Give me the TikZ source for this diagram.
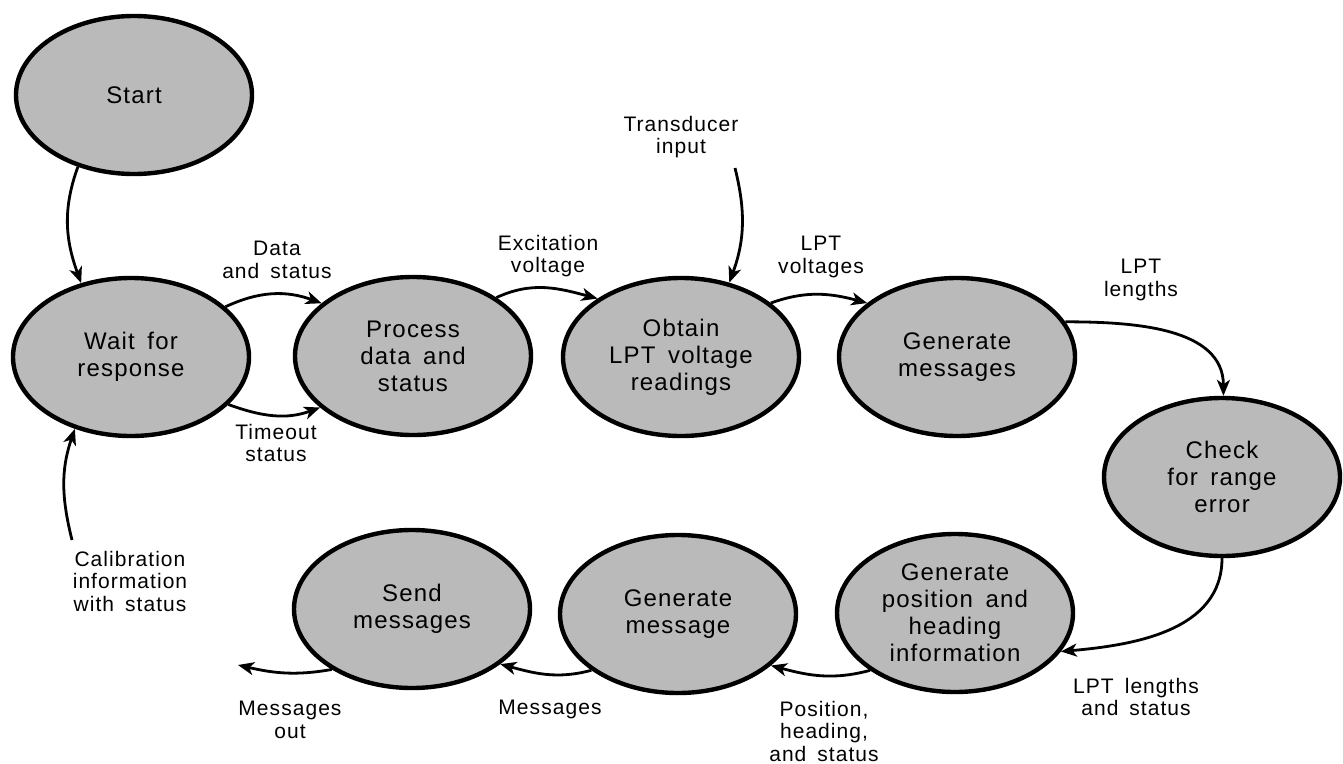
\documentclass[tikz,border=0pt]{standalone}
\usepackage{fontspec}
\setmainfont{Liberation Sans}
\newfontfamily\dfont[LetterSpace=5,WordSpace=1.6]{Liberation Sans}
\usetikzlibrary{arrows.meta,shapes.geometric}
\begin{document}
\begin{tikzpicture}[x=1pt,y=1pt,
  proc/.style={ellipse, draw=black, line width=4.4pt, fill=black!27,
    minimum width=236pt, minimum height=158pt, inner sep=0pt, align=center,
    font=\dfont\fontsize{24}{27}\selectfont},
  lbl/.style={align=center, inner sep=0pt, font=\dfont\fontsize{21}{22.5}\selectfont},
  flow/.style={line width=2.8pt, -{Stealth[length=16pt,width=13pt,inset=4.5pt]}}]
\useasboundingbox (0,0) rectangle (1343,-763);

\node[proc] (start)   at (134,-95)   {Start};
\node[proc] (wait)    at (131,-357)  {Wait for\\response};
\node[proc] (proc)    at (413,-356)  {Process\\data and\\status};
\node[proc] (obtain)  at (681,-357)  {Obtain\\LPT voltage\\readings};
\node[proc] (genmsgs) at (957,-357)  {Generate\\messages};
\node[proc] (check)   at (1222,-477) {Check\\for range\\error};
\node[proc] (genpos)  at (955,-613)  {Generate\\position and\\heading\\information};
\node[proc] (genmsg)  at (678,-614)  {Generate\\message};
\node[proc] (send)    at (412,-609)  {Send\\messages};

\node[lbl] (l1)  at (277,-260)  {Data\\and status};
\node[lbl] (l2)  at (276,-443)  {Timeout\\status};
\node[lbl] (l3)  at (548,-256)  {Excitation\\voltage};
\node[lbl] (l4)  at (681,-137)  {Transducer\\input};
\node[lbl] (l5)  at (821,-257)  {LPT\\voltages};
\node[lbl] (l6)  at (1141,-280) {LPT\\lengths};
\node[lbl] (l7)  at (1136,-697) {LPT lengths\\and status};
\node[lbl] (l8)  at (824,-731)  {Position,\\heading,\\and status};
\node[lbl] (l9)  at (550,-709)  {Messages};
\node[lbl] (l10) at (290,-720)  {Messages\\out};
\node[lbl] (l11) at (130,-581)  {Calibration\\information\\with status};

\coordinate (tin)  at (735,-168);
\coordinate (cal)  at (72,-540);
\coordinate (mout) at (238,-665);

\draw[flow] (start.232) to[out=250,in=110] (wait.124);
\draw[flow] (cal) to[out=104,in=251] (wait.232);
\draw[flow] (wait.28) to[out=25,in=160] (proc.150);
\draw[flow] (wait.334) to[out=-20,in=200] (proc.209);
\draw[flow] (proc.35) to[out=25,in=165] (obtain.145);
\draw[flow] (tin) to[out=284,in=70] (obtain.57);
\draw[flow] (obtain.31) to[out=20,in=165] (genmsgs.149);
\draw[flow] (genmsgs.18) to[out=0,in=90] (check.89);
\draw[flow] (check.270) to[out=-90,in=5] (genpos.340);
\draw[flow] (genpos.214) to[out=195,in=-15] (genmsg.331);
\draw[flow] (genmsg.213) to[out=195,in=-15] (send.328);
\draw[flow] (send.217) to[out=190,in=-13] (mout);
\end{tikzpicture}
\end{document}
